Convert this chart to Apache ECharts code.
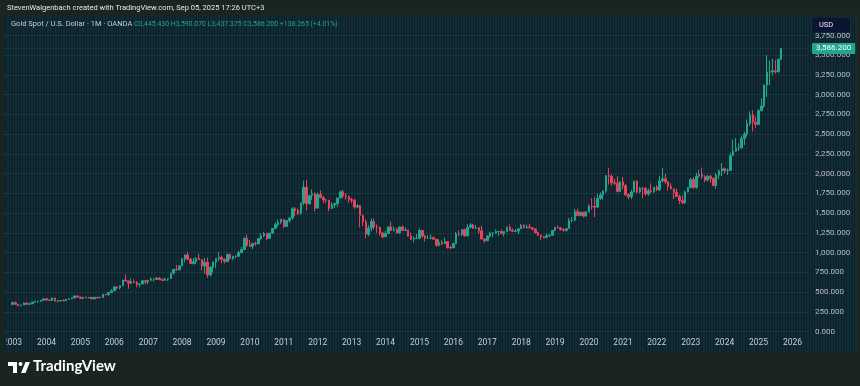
<!DOCTYPE html>
<html>
<head>
<meta charset="utf-8">
<script src="https://cdn.jsdelivr.net/npm/echarts@6/dist/echarts.min.js"></script>
<style>
html,body{margin:0;padding:0;background:#1a2420;}
#c{width:860px;height:386px;}
</style>
</head>
<body>
<div id="c"></div>
<script>
// Monthly candles, Jan 2003 .. Sep 2025 (Gold Spot / USD, OANDA)
var startYear = 2003;
var opens = [
343,368,348,335,339,364,346,354,375,385,386,398,
416,400,396,427,388,393,395,391,408,416,428,453,
438,422,435,428,435,415,436,429,433,473,470,496,
517,568,556,582,654,643,614,633,623,599,604,646,
632,650,665,663,679,659,650,666,673,743,789,783,
834,923,972,916,864,886,930,913,833,880,718,815,
882,928,942,916,890,979,926,954,955,1001,1040,1182,
1096,1081,1118,1113,1180,1213,1244,1181,1248,1308,1357,1386,
1421,1332,1409,1439,1556,1536,1500,1628,1828,1620,1722,1746,
1564,1737,1697,1669,1664,1561,1604,1622,1692,1772,1719,1712,
1675,1663,1578,1595,1472,1393,1234,1312,1395,1327,1323,1250,
1202,1244,1326,1284,1296,1250,1327,1282,1287,1208,1171,1182,
1184,1283,1213,1183,1183,1190,1172,1095,1132,1115,1142,1065,
1061,1117,1238,1233,1293,1215,1322,1351,1309,1316,1277,1173,
1152,1211,1249,1249,1268,1268,1242,1269,1322,1280,1271,1275,
1303,1345,1318,1325,1315,1299,1253,1224,1201,1192,1215,1222,
1282,1321,1313,1292,1284,1305,1409,1413,1520,1472,1513,1464,
1517,1589,1585,1577,1687,1730,1781,1975,1968,1886,1879,1776,
1898,1848,1734,1708,1769,1906,1770,1814,1813,1743,1783,1774,
1829,1797,1909,1937,1897,1838,1807,1766,1711,1660,1633,1768,
1824,1928,1827,1969,1990,1963,1919,1965,1940,1849,1983,2036,
2063,2039,2044,2230,2286,2327,2327,2447,2503,2635,2744,2653,
2625,2798,2858,3124,3289,3289,3303,3290,3445.43
];
var highs = [
383,382,353,341,372,371,368,376,391,390,399,417,
429,411,431,428,396,398,410,418,419,433,455,457,
442,439,445,438,437,443,437,447,474,477,497,541,
572,573,585,654,730,644,676,664,642,610,650,649,
656,690,672,694,690,673,683,676,744,791,845,834,
930,976,1011,935,933,943,988,921,933,938,830,887,
933,1006,964,930,983,990,962,966,1024,1072,1195,1227,
1162,1125,1140,1180,1249,1265,1245,1249,1308,1387,1424,1431,
1424,1411,1447,1575,1577,1557,1633,1913,1921,1730,1803,1764,
1764,1791,1718,1677,1669,1640,1632,1694,1786,1795,1754,1723,
1695,1684,1617,1605,1487,1424,1348,1434,1433,1361,1325,1267,
1280,1332,1392,1331,1315,1332,1345,1323,1288,1256,1208,1238,
1307,1287,1220,1224,1232,1205,1175,1170,1157,1191,1143,1089,
1125,1263,1282,1297,1304,1362,1375,1367,1352,1317,1338,1180,
1220,1264,1261,1296,1273,1296,1270,1331,1357,1306,1299,1306,
1366,1361,1356,1365,1326,1309,1265,1227,1214,1243,1237,1284,
1326,1347,1324,1310,1306,1439,1453,1555,1557,1517,1516,1525,
1611,1689,1704,1748,1765,1789,1984,2075,1992,1933,1966,1906,
1959,1872,1755,1798,1913,1917,1832,1832,1834,1814,1877,1831,
1853,1974,2070,1998,1910,1880,1814,1808,1735,1730,1787,1833,
1949,1959,2009,2049,2079,1984,1987,1987,1953,2009,2052,2135,
2079,2066,2265,2431,2450,2388,2484,2531,2685,2790,2801,2726,
2817,2956,3128,3500,3435,3452,3439,3454,3590.07
];
var lows = [
342,344,319,320,336,340,342,354,370,368,378,397,
398,391,392,386,371,380,386,389,400,411,423,431,
418,411,425,422,414,414,418,427,433,457,456,489,
515,538,535,580,640,543,606,612,561,560,601,603,
603,648,636,662,652,640,647,641,672,721,772,780,
833,880,907,858,851,856,906,774,735,681,700,752,
802,891,866,865,879,910,908,931,946,1001,1040,1075,
1072,1044,1087,1109,1163,1198,1157,1178,1242,1308,1331,1360,
1309,1327,1381,1418,1462,1477,1478,1600,1535,1605,1670,1523,
1564,1689,1627,1627,1527,1554,1565,1585,1690,1692,1672,1635,
1626,1555,1563,1321,1338,1180,1208,1271,1292,1251,1221,1182,
1202,1240,1277,1268,1240,1240,1281,1273,1206,1160,1131,1171,
1167,1190,1142,1175,1170,1162,1077,1080,1098,1113,1053,1046,
1061,1108,1208,1208,1199,1207,1310,1301,1302,1241,1171,1122,
1146,1191,1195,1241,1214,1236,1205,1267,1273,1261,1264,1236,
1302,1307,1303,1310,1282,1246,1211,1160,1180,1182,1196,1221,
1276,1310,1281,1266,1267,1305,1382,1400,1459,1459,1445,1454,
1517,1547,1451,1567,1670,1671,1757,1863,1849,1860,1764,1775,
1802,1717,1677,1678,1766,1751,1751,1688,1722,1721,1759,1753,
1780,1781,1890,1872,1787,1805,1681,1709,1615,1618,1617,1765,
1823,1805,1810,1950,1933,1893,1903,1885,1846,1810,1931,1973,
2002,1984,2039,2229,2277,2287,2319,2364,2472,2604,2536,2583,
2614,2790,2833,2970,3121,3247,3268,3281,3437.375
];
var closes = [
368,348,335,339,364,346,354,375,385,386,398,416,
400,396,427,388,393,395,391,408,416,428,453,438,
422,435,428,435,415,436,429,433,473,470,496,517,
568,556,582,654,643,614,633,623,599,604,646,632,
650,665,663,679,659,650,666,673,743,789,783,834,
923,972,916,864,886,930,913,833,880,718,815,882,
928,942,916,890,979,926,954,955,1001,1040,1182,1096,
1081,1118,1113,1180,1213,1244,1181,1248,1308,1357,1386,1421,
1332,1409,1439,1556,1536,1500,1628,1828,1620,1722,1746,1564,
1737,1697,1669,1664,1561,1604,1622,1692,1772,1719,1712,1675,
1663,1578,1595,1472,1393,1234,1312,1395,1327,1323,1250,1202,
1244,1326,1284,1296,1250,1327,1282,1287,1208,1171,1182,1184,
1283,1213,1183,1183,1190,1172,1095,1132,1115,1142,1065,1061,
1117,1238,1233,1293,1215,1322,1351,1309,1316,1277,1173,1152,
1211,1249,1249,1268,1268,1242,1269,1322,1280,1271,1275,1303,
1345,1318,1325,1315,1299,1253,1224,1201,1192,1215,1222,1282,
1321,1313,1292,1284,1305,1409,1413,1520,1472,1513,1464,1517,
1589,1585,1577,1687,1730,1781,1975,1968,1886,1879,1776,1898,
1848,1734,1708,1769,1906,1770,1814,1813,1743,1783,1774,1829,
1797,1909,1937,1897,1838,1807,1766,1711,1660,1633,1768,1824,
1928,1827,1969,1990,1963,1919,1965,1940,1849,1983,2036,2063,
2039,2044,2230,2286,2327,2327,2447,2503,2635,2744,2653,2625,
2798,2858,3124,3289,3289,3303,3290,3448,3586.2
];
var lastPrice = 3586.2;
var yTicks = [0,250,500,750,1000,1250,1500,1750,2000,2250,2500,2750,3000,3250,3500,3750];
var yearLabels = ['2003','2004','2005','2006','2007','2008','2009','2010','2011','2012','2013','2014','2015','2016','2017','2018','2019','2020','2021','2022','2023','2024','2025','2026'];
var headerTitle = 'StevenWalgenbach created with TradingView.com, Sep 05, 2025 17:26 UTC+3';
var legendName = 'Gold Spot / U.S. Dollar · 1M · OANDA';
var legendVals = 'O3,445.430 H3,590.070 L3,437.375 C3,586.200 +138.265 (+4.01%)';

// build categories: Oct 2002 .. Jun 2026
var cats = [];
var data = [];
var y = 2002, m = 10;
while (!(y === 2026 && m === 7)) {
  var key = y + '-' + (m < 10 ? '0' + m : '' + m);
  cats.push(key);
  var idx = (y - startYear) * 12 + (m - 1);
  if (idx >= 0 && idx < closes.length) {
    data.push([opens[idx], closes[idx], lows[idx], highs[idx]]);
  } else {
    data.push('-');
  }
  m++; if (m > 12) { m = 1; y++; }
}

function fmt(v) {
  return v.toLocaleString('en-US', {minimumFractionDigits: 3, maximumFractionDigits: 3});
}

// striped panel texture (as in the reference image)
var pc = document.createElement('canvas');
pc.width = 8; pc.height = 4;
var pctx = pc.getContext('2d');
var stripe = ['#10302b', '#0e1a38', '#10302b', '#0f2c2c', '#0e1a38', '#10302b', '#0e1b37', '#10302b'];
for (var s = 0; s < stripe.length; s++) { pctx.fillStyle = stripe[s]; pctx.fillRect(s, 0, 1, 4); }
var pat = {image: pc, repeat: 'repeat'};

var chart = echarts.init(document.getElementById('c'), null, {renderer: 'canvas'});
var upC = '#22a590', downC = '#e8435d';
chart.setOption({
  backgroundColor: '#1a2420',
  animation: false,
  grid: {left: 0, right: 52, top: 35.5, bottom: 54.3, containLabel: false},
  xAxis: {
    type: 'category',
    data: cats,
    boundaryGap: true,
    axisLine: {show: false},
    axisTick: {show: false},
    splitLine: {show: false},
    axisLabel: {
      interval: function (i, v) { return v.slice(5) === '01' && yearLabels.indexOf(v.slice(0, 4)) >= 0; },
      formatter: function (v) { return v.slice(0, 4); },
      color: '#c9ccd2', fontSize: 8.5, fontFamily: 'Roboto, sans-serif', margin: 7
    }
  },
  yAxis: {
    type: 'value',
    position: 'right',
    min: 0, max: 3750, interval: 250,
    axisLine: {show: false},
    axisTick: {show: false},
    splitLine: {show: true, lineStyle: {color: 'rgba(70,120,110,0.2)', width: 1}},
    axisLabel: {
      color: '#b8bcc4', fontSize: 8, fontFamily: 'Roboto, sans-serif', margin: 7,
      formatter: function (v) { return yTicks.indexOf(v) >= 0 ? fmt(v) : ''; }
    }
  },
  graphic: [
    {type: 'rect', z: -10, silent: true, shape: {x: 3, y: 15, width: 854, height: 337}, style: {fill: pat}},
    {type: 'rect', z: 100, silent: true, shape: {x: 0, y: 0, width: 3, height: 386}, style: {fill: '#1a2420'}},
    {type: 'rect', z: 100, silent: true, shape: {x: 3, y: 336, width: 3.5, height: 15}, style: {fill: pat}},
    {type: 'text', left: 7, top: 4, style: {text: headerTitle, fill: '#e6e8ea', font: '7.5px Roboto, sans-serif'}},
    {type: 'text', left: 11, top: 20, style: {text: legendName, fill: '#c9ccd2', font: '7.5px Roboto, sans-serif'}},
    {type: 'text', left: 134, top: 20.5, style: {text: legendVals, fill: '#22a590', font: '6.9px Roboto, sans-serif'}},
    {type: 'rect', shape: {x: 813, y: 18, width: 37, height: 14, r: 2}, style: {fill: '#0c1434'}},
    {type: 'text', left: 819, top: 21, style: {text: 'USD', fill: '#e6e8ea', font: '7.5px Roboto, sans-serif'}},
    // TradingView logo
    {type: 'rect', shape: {x: 8, y: 362, width: 9, height: 4}, style: {fill: '#ffffff'}},
    {type: 'rect', shape: {x: 13, y: 362, width: 4, height: 11}, style: {fill: '#ffffff'}},
    {type: 'circle', shape: {cx: 20.5, cy: 364, r: 2}, style: {fill: '#ffffff'}},
    {type: 'polygon', shape: {points: [[21, 373], [25.5, 362], [30, 362], [25.5, 373]]}, style: {fill: '#ffffff'}},
    {type: 'text', left: 33, top: 359, style: {text: 'TradingView', fill: '#ffffff', font: 'bold 15px Lato, "Open Sans", sans-serif'}}
  ],
  series: [{
    type: 'candlestick',
    data: data,
    barWidth: 2,
    itemStyle: {color: upC, color0: downC, borderColor: upC, borderColor0: downC, borderWidth: 1},
    markLine: {
      symbol: 'none',
      silent: true,
      lineStyle: {color: 'rgba(34,165,144,0.25)', type: 'dotted', width: 1},
      label: {
        show: true, position: 'end', distance: 4,
        formatter: function () { return fmt(lastPrice); },
        backgroundColor: '#22a590', color: '#ffffff', fontSize: 8, fontFamily: 'Roboto, sans-serif',
        padding: [2, 4, 1, 4], borderRadius: 1
      },
      data: [{yAxis: lastPrice}]
    }
  }]
});
</script>
</body>
</html>
